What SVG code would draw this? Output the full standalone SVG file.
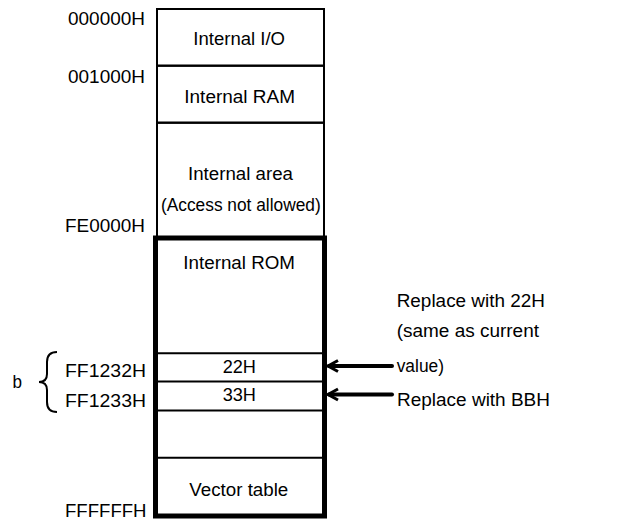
<svg xmlns="http://www.w3.org/2000/svg" width="632" height="521" viewBox="0 0 632 521">
<style>
text{font-family:"Liberation Sans",Arial,sans-serif;font-size:17.5px;fill:#000}
.thin{fill:none;stroke:#000;stroke-width:2}
.thick{fill:none;stroke:#000;stroke-width:5}
.shaft{stroke:#000;stroke-width:4;stroke-linecap:round;fill:none}
.head{stroke:#000;stroke-width:3;fill:none}
</style>
<rect width="632" height="521" fill="#fff"/>
<g id="addresses">
<text x="68" y="25" textLength="77" lengthAdjust="spacingAndGlyphs">000000H</text>
<text x="68" y="83" textLength="77" lengthAdjust="spacingAndGlyphs">001000H</text>
<text x="65" y="232" textLength="80" lengthAdjust="spacingAndGlyphs">FE0000H</text>
<text x="65" y="377" textLength="81" lengthAdjust="spacingAndGlyphs">FF1232H</text>
<text x="65" y="406.5" textLength="81" lengthAdjust="spacingAndGlyphs">FF1233H</text>
<text x="65" y="517" textLength="81.5" lengthAdjust="spacingAndGlyphs">FFFFFFH</text>
</g>
<g id="brace-b">
<path class="thin" d="M57,352 Q47,352 47,362 L47,374 Q47,382 39,382 Q47,382 47,390 L47,402 Q47,412 57,412"/>
<text x="12.5" y="388" textLength="9.5" lengthAdjust="spacingAndGlyphs">b</text>
</g>
<g id="internal-io">
<rect class="thin" x="157" y="9" width="167" height="56.7"/>
<text x="193.3" y="44.5" textLength="91.7" lengthAdjust="spacingAndGlyphs">Internal I/O</text>
</g>
<g id="internal-ram">
<rect class="thin" x="157" y="65.7" width="167" height="57"/>
<text x="184.3" y="103.3" textLength="110.7" lengthAdjust="spacingAndGlyphs">Internal RAM</text>
</g>
<g id="internal-area">
<rect class="thin" x="157" y="122.7" width="167" height="115"/>
<text x="188" y="180" textLength="105" lengthAdjust="spacingAndGlyphs">Internal area</text>
<text x="161" y="211" textLength="159.7" lengthAdjust="spacingAndGlyphs">(Access not allowed)</text>
</g>
<g id="internal-rom">
<rect class="thick" x="155.5" y="238" width="169" height="278"/>
<text x="183.3" y="269.3" textLength="111.7" lengthAdjust="spacingAndGlyphs">Internal ROM</text>
</g>
<g id="cell-22h">
<line class="thin" x1="157" y1="353.3" x2="323" y2="353.3"/>
<text x="222.7" y="372.5" textLength="33.3" lengthAdjust="spacingAndGlyphs">22H</text>
</g>
<g id="cell-33h">
<line class="thin" x1="157" y1="381.5" x2="323" y2="381.5"/>
<line class="thin" x1="157" y1="410.5" x2="323" y2="410.5"/>
<text x="222.7" y="401" textLength="33.3" lengthAdjust="spacingAndGlyphs">33H</text>
</g>
<g id="vector-table">
<line class="thin" x1="157" y1="457.7" x2="323" y2="457.7"/>
<text x="189.3" y="496" textLength="99" lengthAdjust="spacingAndGlyphs">Vector table</text>
</g>
<g id="connectors">
<line class="shaft" x1="329" y1="366" x2="392" y2="366"/>
<polyline class="head" points="338,360.5 328,366 338,371.5"/>
<line class="shaft" x1="329" y1="394.5" x2="392" y2="394.5"/>
<polyline class="head" points="338,389 328,394.5 338,400"/>
</g>
<g id="notes">
<text x="396.7" y="307" textLength="148.3" lengthAdjust="spacingAndGlyphs">Replace with 22H</text>
<text x="396.7" y="337" textLength="142.3" lengthAdjust="spacingAndGlyphs">(same as current</text>
<text x="396.7" y="371.5" textLength="47.3" lengthAdjust="spacingAndGlyphs">value)</text>
<text x="397" y="406" textLength="153" lengthAdjust="spacingAndGlyphs">Replace with BBH</text>
</g>
</svg>
